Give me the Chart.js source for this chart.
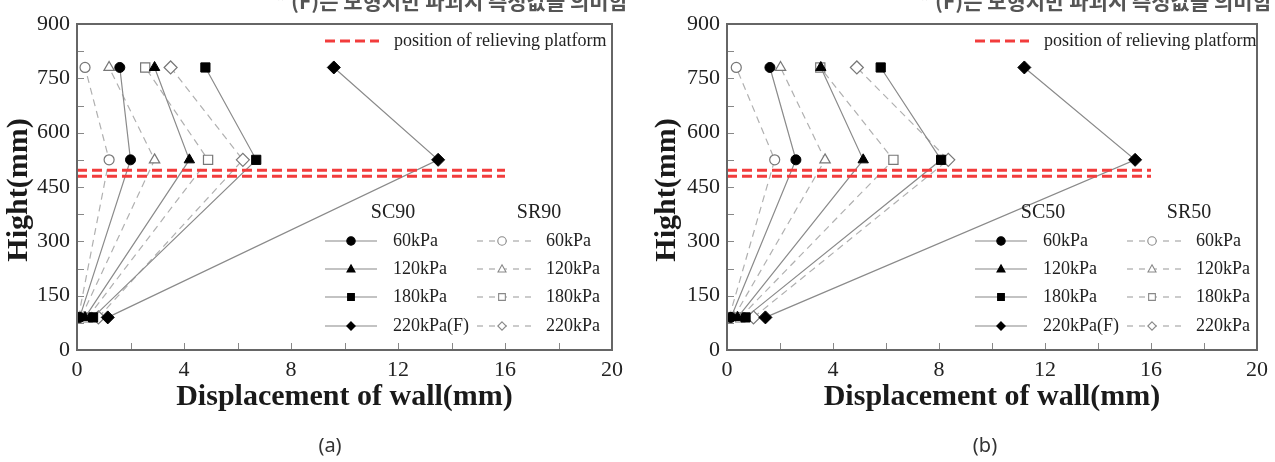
<!DOCTYPE html>
<html><head><meta charset="utf-8">
<script src="https://cdn.jsdelivr.net/npm/chart.js@4.4.0/dist/chart.umd.min.js"></script>
<style>
html,body{margin:0;padding:0;background:#fff;width:1275px;height:462px;overflow:hidden;}
.box{position:absolute;top:0;height:462px;}
</style></head><body>
<div class="box" style="left:0;width:640px"><canvas id="ca"></canvas></div>
<div class="box" style="left:640px;width:635px"><canvas id="cb"></canvas></div>
<script>
// ---- data ----
const heights = [90, 525, 780];               // measurement heights (mm)
const xTicks = [0, 4, 8, 12, 16, 20];
const yTicks = [0, 150, 300, 450, 600, 750, 900];
const xMinorStep = 2;
const yMinorStep = 75;
const scLabels = ['60kPa', '120kPa', '180kPa', '220kPa(F)'];
const srLabels = ['60kPa', '120kPa', '180kPa', '220kPa'];
const platformLevels = [496, 480];
const platformSpan = [0, 16];
const noteText = '* (F)는 모형지반 파괴시 측정값을 의미함';
const platformLabel = 'position of relieving platform';
const xTitle = 'Displacement of wall(mm)';
const yTitle = 'Hight(mm)';

// chart (a): SC90 / SR90 displacement at heights 90, 525, 780
const sc90_60  = [0.10, 2.00, 1.60];
const sc90_120 = [0.30, 4.20, 2.90];
const sc90_180 = [0.60, 6.70, 4.80];
const sc90_220 = [1.15, 13.50, 9.60];
const sr90_60  = [0.05, 1.20, 0.30];
const sr90_120 = [0.15, 2.90, 1.20];
const sr90_180 = [0.40, 4.90, 2.55];
const sr90_220 = [0.80, 6.20, 3.50];
// chart (b): SC50 / SR50
const sc50_60  = [0.15, 2.60, 1.62];
const sc50_120 = [0.40, 5.14, 3.54];
const sc50_180 = [0.70, 8.08, 5.80];
const sc50_220 = [1.45, 15.40, 11.22];
const sr50_60  = [0.08, 1.80, 0.35];
const sr50_120 = [0.25, 3.70, 2.02];
const sr50_180 = [0.50, 6.28, 3.52];
const sr50_220 = [1.00, 8.35, 4.90];

// ---- styling ----
const shapes = ['circle', 'triangle', 'rect', 'rectRot'];
const radii = [5, 6, 6.5, 6.5];
const SERIF = '"Liberation Serif","Times New Roman",serif';

function pts(vals) { return vals.map((v, i) => ({x: v, y: heights[i]})); }

function buildDatasets(sc, sr) {
  const ds = [];
  sc.forEach((vals, i) => ds.push({
    data: pts(vals), showLine: true, borderColor: '#8a8a8a', borderWidth: 1.2,
    pointStyle: shapes[i], pointRadius: radii[i], pointBackgroundColor: '#000',
    pointBorderColor: '#000', pointBorderWidth: 1, order: 1
  }));
  sr.forEach((vals, i) => ds.push({
    data: pts(vals), showLine: true, borderColor: '#b0b0b0', borderWidth: 1.2,
    borderDash: [7, 5], pointStyle: shapes[i], pointRadius: radii[i],
    pointBackgroundColor: '#fff', pointBorderColor: '#777', pointBorderWidth: 1.2, order: 2
  }));
  platformLevels.forEach(lv => ds.push({
    data: platformSpan.map(x => ({x, y: lv})), showLine: true, borderColor: '#f23c3c',
    borderWidth: 3, borderDash: [10, 5], pointRadius: 0, order: 0
  }));
  return ds;
}

function drawMarker(ctx, style, x, y, r, fill, stroke) {
  ctx.save();
  ctx.fillStyle = fill; ctx.strokeStyle = stroke; ctx.lineWidth = 1.1;
  ctx.setLineDash([]);
  ctx.beginPath();
  if (style === 'circle') ctx.arc(x, y, r, 0, Math.PI * 2);
  else if (style === 'triangle') { ctx.moveTo(x, y - r); ctx.lineTo(x + r * 0.95, y + r * 0.7); ctx.lineTo(x - r * 0.95, y + r * 0.7); ctx.closePath(); }
  else if (style === 'rect') ctx.rect(x - r * 0.8, y - r * 0.8, r * 1.6, r * 1.6);
  else { ctx.moveTo(x, y - r); ctx.lineTo(x + r, y); ctx.lineTo(x, y + r); ctx.lineTo(x - r, y); ctx.closePath(); }
  ctx.fill(); ctx.stroke();
  ctx.restore();
}

function decoPlugin(opt) {
  return {
    id: 'deco',
    afterDraw(chart) {
      const {ctx, chartArea: a, scales: {x, y}} = chart;
      ctx.save();
      // inward ticks
      ctx.strokeStyle = '#888'; ctx.lineWidth = 1;
      for (let v = xTicks[0]; v <= xTicks[xTicks.length - 1]; v += xMinorStep) {
        const px = Math.round(x.getPixelForValue(v)) + 0.5;
        ctx.beginPath(); ctx.moveTo(px, a.bottom); ctx.lineTo(px, a.bottom - 7); ctx.stroke();
      }
      for (let v = yTicks[0]; v <= yTicks[yTicks.length - 1]; v += yMinorStep) {
        const py = Math.round(y.getPixelForValue(v)) + 0.5;
        ctx.beginPath(); ctx.moveTo(a.left, py); ctx.lineTo(a.left + 7, py); ctx.stroke();
      }
      // frame
      ctx.strokeStyle = '#666'; ctx.lineWidth = 2;
      ctx.strokeRect(a.left, a.top, a.right - a.left, a.bottom - a.top);

      ctx.fillStyle = '#1a1a1a';
      // axis titles
      ctx.font = 'bold 30px ' + SERIF;
      ctx.textAlign = 'center'; ctx.textBaseline = 'middle';
      ctx.fillText(xTitle, (a.left + a.right) / 2, 397);
      ctx.save();
      ctx.translate(opt.yTitleX, 190); ctx.rotate(-Math.PI / 2);
      ctx.fillText(yTitle, 0, 0);
      ctx.restore();

      // caption
      ctx.font = '20px "Noto Sans","Liberation Sans",sans-serif';
      ctx.fillStyle = '#333';
      ctx.fillText(opt.caption, opt.captionX, 446);

      // note (clipped at top)
      ctx.font = 'bold 21px "Noto Sans CJK KR",sans-serif';
      ctx.fillStyle = '#555'; ctx.textAlign = 'right';
      ctx.fillText(noteText, opt.noteRight, 1);

      // platform legend
      const L = a.left;
      ctx.strokeStyle = '#f23c3c'; ctx.lineWidth = 3; ctx.setLineDash([10, 5]);
      ctx.beginPath(); ctx.moveTo(L + 248, 41); ctx.lineTo(L + 302, 41); ctx.stroke();
      ctx.setLineDash([]);
      ctx.fillStyle = '#222'; ctx.textAlign = 'left';
      ctx.font = '18px ' + SERIF;
      ctx.fillText(platformLabel, L + 317, 41);

      // series legend
      ctx.font = '20px ' + SERIF; ctx.textAlign = 'center';
      ctx.fillText(opt.scHead, L + 316, 213);
      ctx.fillText(opt.srHead, L + 462, 213);
      ctx.font = '18px ' + SERIF; ctx.textAlign = 'left';
      const rows = [241, 269, 297, 326];
      rows.forEach((ry, i) => {
        ctx.strokeStyle = '#888'; ctx.lineWidth = 1.2; ctx.setLineDash([]);
        ctx.beginPath(); ctx.moveTo(L + 248, ry); ctx.lineTo(L + 300, ry); ctx.stroke();
        drawMarker(ctx, shapes[i], L + 274, ry, 4.2, '#000', '#000');
        ctx.fillStyle = '#222';
        ctx.fillText(scLabels[i], L + 316, ry);
        ctx.strokeStyle = '#aaa'; ctx.setLineDash([6, 6]);
        ctx.beginPath(); ctx.moveTo(L + 400, ry); ctx.lineTo(L + 454, ry); ctx.stroke();
        drawMarker(ctx, shapes[i], L + 425, ry, 4.2, '#fff', '#888');
        ctx.fillStyle = '#222';
        ctx.fillText(srLabels[i], L + 469, ry);
      });
      ctx.restore();
    }
  };
}

function makeChart(id, sc, sr, opt) {
  return new Chart(document.getElementById(id), {
    type: 'scatter',
    data: {datasets: buildDatasets(sc, sr)},
    options: {
      responsive: true, maintainAspectRatio: false, animation: false,
      layout: {padding: {top: 24, right: opt.padRight, left: 0, bottom: 0}},
      plugins: {legend: {display: false}, tooltip: {enabled: false}},
      scales: {
        x: {
          type: 'linear', min: xTicks[0], max: xTicks[xTicks.length - 1],
          afterBuildTicks: s => { s.ticks = xTicks.map(v => ({value: v})); },
          grid: {display: false, drawTicks: false}, border: {display: false},
          ticks: {padding: 7, color: '#222', font: {family: SERIF, size: 22}, maxRotation: 0},
          afterFit: s => { s.height = 112; }
        },
        y: {
          type: 'linear', min: yTicks[0], max: yTicks[yTicks.length - 1],
          afterBuildTicks: s => { s.ticks = yTicks.map(v => ({value: v})); },
          grid: {display: false, drawTicks: false}, border: {display: false},
          ticks: {padding: 7, color: '#222', font: {family: SERIF, size: 22}},
          afterFit: s => { s.width = opt.yWidth; }
        }
      }
    },
    plugins: [decoPlugin(opt)]
  });
}

makeChart('ca', [sc90_60, sc90_120, sc90_180, sc90_220], [sr90_60, sr90_120, sr90_180, sr90_220],
  {padRight: 28, yWidth: 77, yTitleX: 19, caption: '(a)', captionX: 330, noteRight: 628, scHead: 'SC90', srHead: 'SR90'});
makeChart('cb', [sc50_60, sc50_120, sc50_180, sc50_220], [sr50_60, sr50_120, sr50_180, sr50_220],
  {padRight: 15, yWidth: 87, yTitleX: 27, caption: '(b)', captionX: 345, noteRight: 632, scHead: 'SC50', srHead: 'SR50'});
</script>
</body></html>
